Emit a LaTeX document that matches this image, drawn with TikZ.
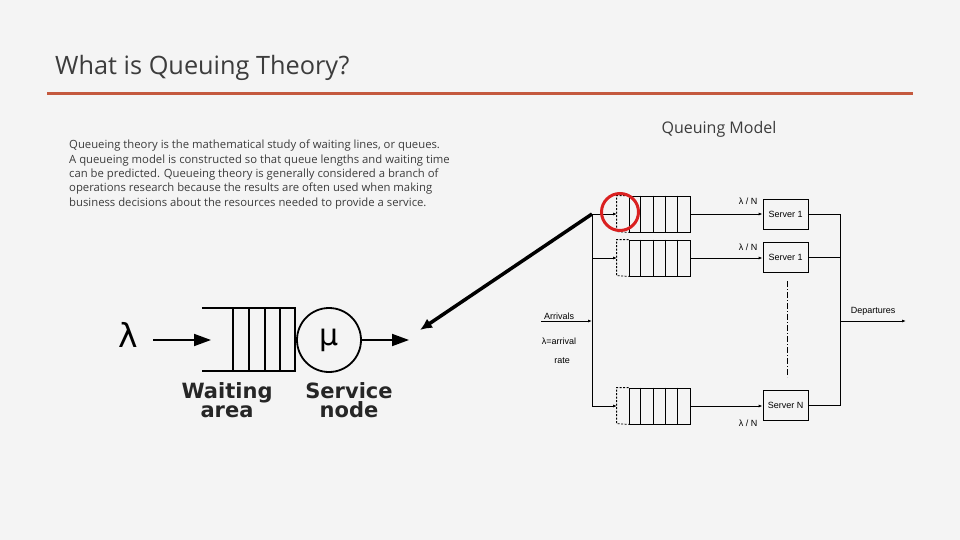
\documentclass[tikz,border=0pt]{standalone}
\usepackage{fontspec}
\setmainfont{Open Sans}
\newfontfamily\labelfont{Liberation Sans}
\newfontfamily\greekfont{DejaVu Sans}
\usetikzlibrary{arrows.meta}
\definecolor{slidebg}{RGB}{244,244,244}
\definecolor{rulecol}{RGB}{196,89,62}
\definecolor{textgray}{RGB}{60,60,60}
\definecolor{markred}{RGB}{218,32,32}

\begin{document}
\begin{tikzpicture}[x=1pt,y=-1pt,
    cellbox/.style={draw, line width=0.8pt, minimum width=61pt, minimum height=36pt, inner sep=0pt},
    srvbox/.style={draw, line width=0.8pt, minimum width=45pt, minimum height=30pt, inner sep=0pt, font=\labelfont\fontsize{9}{10}\selectfont},
    small/.style={font=\labelfont\fontsize{9}{10}\selectfont, inner sep=0pt},
    feed/.style={line width=0.8pt, -{Latex[length=4pt,width=3pt]}},
    tail/.style={line width=0.8pt, dash pattern=on 2pt off 1.5pt},
    thickline/.style={line width=1.8pt},
    bigtip/.style={line width=1.8pt, -{Triangle[length=17pt,width=12pt]}},
    boldlab/.style={font=\greekfont\bfseries\fontsize{21}{19}\selectfont, align=center, text=black!85}
    ]
\fill[slidebg] (0,0) rectangle (960,540);
\useasboundingbox (0,0) rectangle (960,540);

\node[anchor=base west, inner sep=0pt, text=textgray, font=\fontsize{25.3}{30}\selectfont] (title) at (55,75) {What is Queuing Theory?};
\draw[rulecol, line width=3pt] (47,94) -- (913,94);

\node[anchor=north west, align=left, inner sep=0pt, text=textgray, font=\fontsize{11.3}{14.3}\selectfont] (para) at (69,140)
 {Queueing theory is the mathematical study of waiting lines, or queues.\\
  A queueing model is constructed so that queue lengths and waiting time\\
  can be predicted. Queueing theory is generally considered a branch of\\
  operations research because the results are often used when making\\
  business decisions about the resources needed to provide a service.};

\node[text=textgray, font=\fontsize{16}{18}\selectfont] (modeltitle) at (719,129) {Queuing Model};

% simple queue
\node[font=\greekfont\fontsize{33}{36}\selectfont, inner sep=0pt] (lam) at (128,335) {λ};
\coordinate (lamout) at (153,340);
\node[minimum width=93pt, minimum height=63pt, inner sep=0pt] (wq) at (248.5,339.5) {};
\coordinate (wqin) at (211,340);
\draw[thickline] (wq.north west) -- (wq.north east) -- (wq.south east) -- (wq.south west);
\foreach \d in {31,47,63,78} {\draw[thickline] ([xshift=\d pt]wq.north west) -- ([xshift=\d pt]wq.south west);}
\node[draw, circle, thickline, minimum size=64pt, inner sep=0pt, font=\greekfont\fontsize{30}{32}\selectfont] (mu) at (329,340) {μ};
\coordinate (muout) at (409,340);
\draw[bigtip] (lamout) -- (wqin);
\draw[bigtip] (mu.east) -- (muout);
\node[boldlab] (wlab) at (227,400) {Waiting\\area};
\node[boldlab] (slab) at (349,400) {Service\\node};

% N parallel queues
\node[cellbox] (q1) at (659.5,214) {};
\node[cellbox] (q2) at (659.5,258) {};
\node[cellbox] (qN) at (659.5,406) {};
\foreach \q in {q1,q2,qN} {
  \draw[tail] (\q.north west) -- ++(-12,0) -- ++(0,36) -- (\q.south west);
  \foreach \d in {12.2,24.4,36.6,48.8} {\draw[line width=0.8pt] ([xshift=\d pt]\q.north west) -- ([xshift=\d pt]\q.south west);}
}
\coordinate (q1in) at (617,214);
\coordinate (q2in) at (617,258);
\coordinate (qNin) at (617,406);

\node[srvbox] (s1) at (785.5,214) {Server 1};
\node[srvbox] (s2) at (785.5,257) {Server 1};
\node[srvbox] (sN) at (785.5,405) {Server N};
\node[small] (lab1) at (748,201) {λ / N};
\node[small] (lab2) at (748,247) {λ / N};
\node[small] (labN) at (748,423) {λ / N};

\coordinate (busTop) at (592,214);
\coordinate (bus2) at (592,258);
\coordinate (busArr) at (592,321);
\coordinate (busBot) at (592,406);
\coordinate (arrStart) at (541,321);
\draw[line width=0.8pt] (busTop) -- (busBot);
\draw[feed] (busTop) -- (q1in);
\draw[feed] (bus2) -- (q2in);
\draw[feed] (busBot) -- (qNin);
\draw[feed] (arrStart) -- (busArr);
\node[small] (arrlab) at (559,316) {Arrivals};
\node[small] (ratelab) at (559,341) {λ=arrival};
\node[small] (ratelab2) at (562,361) {rate};

\draw[feed] (q1.east) -- (q1.east -| s1.west);
\draw[feed] (q2.east) -- (q2.east -| s2.west);
\draw[feed] (qN.east) -- (qN.east -| sN.west);

\coordinate (outTop) at (840,214);
\coordinate (outBot) at (840,405);
\coordinate (depStart) at (840,321);
\coordinate (depEnd) at (906,321);
\draw[line width=0.8pt] (s1.east) -- (outTop) -- (outBot) -- (sN.east);
\draw[line width=0.8pt] (s2.east) -- (s2.east -| outTop);
\draw[feed] (depStart) -- (depEnd);
\node[small] (deplab) at (873,311) {Departures};

\coordinate (dotTop) at (787,281);
\coordinate (dotBot) at (787,377);
\draw[line width=0.8pt, dash pattern=on 6pt off 2pt on 1pt off 2pt] (dotTop) -- (dotBot);

\node[draw=markred, circle, line width=3pt, minimum size=37pt, inner sep=0pt] (hl) at (620,212) {};
\coordinate (ptr) at (420,330);
\draw[line width=3.5pt, -{Latex[length=12pt,width=11pt]}] (busTop) -- (ptr);
\end{tikzpicture}
\end{document}
